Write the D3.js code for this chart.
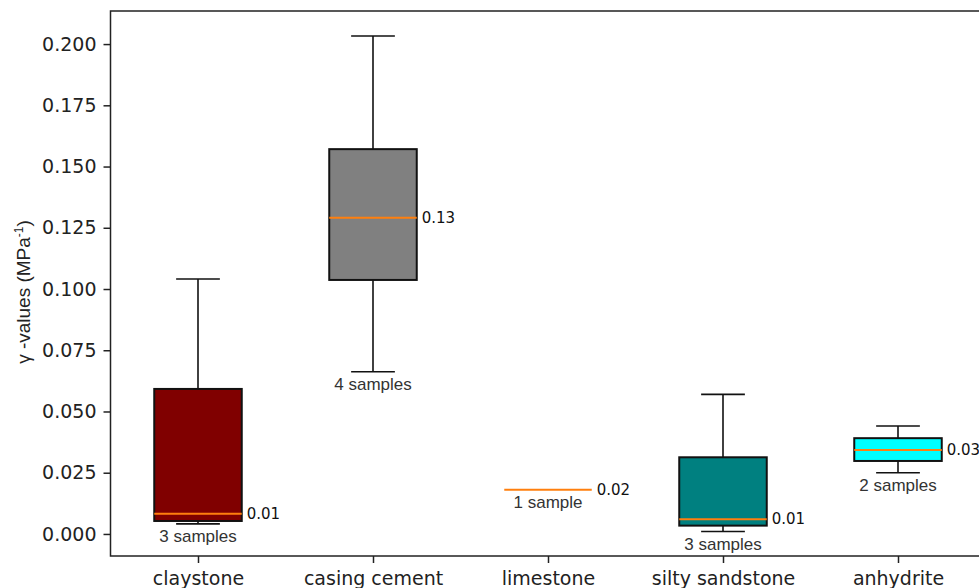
<!DOCTYPE html>
<html>
<head>
<meta charset="utf-8">
<script src="https://cdn.jsdelivr.net/npm/d3@7"></script>
<style>
  body { margin: 0; background: #fff; }
  text { font-family: "DejaVu Sans", sans-serif; }
</style>
</head>
<body>
<div id="chart"></div>
<script>
// box statistics
const rocks = ["claystone", "casing cement", "limestone", "silty sandstone", "anhydrite"];
const whiskerLow = [0.0041, 0.0662, 0.0180, 0.0010, 0.0250];
const q1 = [0.0053, 0.1037, 0.0180, 0.0034, 0.0298];
const medians = [0.0082, 0.1291, 0.0180, 0.0060, 0.0343];
const q3 = [0.0592, 0.1571, 0.0180, 0.0313, 0.0391];
const whiskerHigh = [0.1041, 0.2033, 0.0180, 0.0570, 0.0441];
const sampleCounts = [3, 4, 1, 3, 2];
const medianLabels = ["0.01", "0.13", "0.02", "0.01", "0.03"];
const boxColors = ["#800000", "#808080", "none", "#008080", "#00ffff"];
const yTicks = [0, 0.025, 0.05, 0.075, 0.1, 0.125, 0.15, 0.175, 0.2];

const width = 979, height = 588;
const mLeft = 110.5, mRight = 985.5, mTop = 11, mBottom = 556;

const svg = d3.select("#chart").append("svg")
    .attr("width", width)
    .attr("height", height);

const x = d3.scaleLinear().domain([0.5, 5.5]).range([mLeft, mRight]);
const y = d3.scaleLinear().domain([-0.009, 0.2135]).range([mBottom, mTop]);

const data = rocks.map((r, i) => ({
    rock: r, pos: i + 1, lo: whiskerLow[i], q1: q1[i], med: medians[i],
    q3: q3[i], hi: whiskerHigh[i], n: sampleCounts[i], label: medianLabels[i], color: boxColors[i]
}));

const boxW = x(1.25) - x(1);   // half box width
const capW = x(1.125) - x(1);  // half cap width

const g = svg.append("g");

data.forEach(d => {
    const cx = x(d.pos);
    const grp = g.append("g");
    if (d.n > 1) {
        // whiskers
        grp.append("line").attr("x1", cx).attr("x2", cx).attr("y1", y(d.q3)).attr("y2", y(d.hi))
            .attr("stroke", "#111").attr("stroke-width", 1.6);
        grp.append("line").attr("x1", cx).attr("x2", cx).attr("y1", y(d.q1)).attr("y2", y(d.lo))
            .attr("stroke", "#111").attr("stroke-width", 1.6);
        grp.append("line").attr("x1", cx - capW).attr("x2", cx + capW).attr("y1", y(d.hi)).attr("y2", y(d.hi))
            .attr("stroke", "#111").attr("stroke-width", 1.6);
        grp.append("line").attr("x1", cx - capW).attr("x2", cx + capW).attr("y1", y(d.lo)).attr("y2", y(d.lo))
            .attr("stroke", "#111").attr("stroke-width", 1.6);
        grp.append("rect")
            .attr("x", cx - boxW).attr("width", boxW * 2)
            .attr("y", y(d.q3)).attr("height", y(d.q1) - y(d.q3))
            .attr("fill", d.color).attr("stroke", "#111").attr("stroke-width", 2);
    }
    grp.append("line").attr("x1", cx - boxW).attr("x2", cx + boxW).attr("y1", y(d.med)).attr("y2", y(d.med))
        .attr("stroke", "#ff7f0e").attr("stroke-width", 2);

    grp.append("text")
        .attr("x", cx + boxW + 5).attr("y", y(d.med))
        .attr("dominant-baseline", "central")
        .style("font-size", "15px").attr("fill", "#111")
        .text(d.label);

    grp.append("text")
        .attr("x", cx).attr("y", y(d.lo) + 13)
        .attr("text-anchor", "middle").attr("dominant-baseline", "central")
        .style("font-family", "'Liberation Sans', Arial, sans-serif")
        .style("font-size", "17px").attr("fill", "#333")
        .text(d.n + (d.n === 1 ? " sample" : " samples"));
});

// axes
const yAxis = svg.append("g")
    .attr("transform", `translate(${mLeft},0)`)
    .call(d3.axisLeft(y).tickValues(yTicks).tickFormat(d3.format(".3f")).tickSize(7).tickPadding(7));
yAxis.select(".domain").remove();
yAxis.selectAll("line").attr("stroke", "#222").attr("stroke-width", 1.5);
yAxis.selectAll("text").style("font-size", "19px").attr("fill", "#222");

const xAxis = svg.append("g")
    .attr("transform", `translate(0,${mBottom})`)
    .call(d3.axisBottom(x).tickValues(data.map(d => d.pos)).tickFormat((d, i) => rocks[i]).tickSize(7).tickPadding(9));
xAxis.select(".domain").remove();
xAxis.selectAll("line").attr("stroke", "#222").attr("stroke-width", 1.5);
xAxis.selectAll("text").style("font-size", "19px").attr("fill", "#222");

// frame
svg.append("rect")
    .attr("x", mLeft).attr("y", mTop)
    .attr("width", mRight - mLeft).attr("height", mBottom - mTop)
    .attr("fill", "none").attr("stroke", "#222").attr("stroke-width", 1.5);

// y label
const yl = svg.append("text")
    .attr("transform", "translate(30,292) rotate(-90)")
    .attr("text-anchor", "middle")
    .style("font-family", "'Liberation Sans', Arial, sans-serif")
    .style("font-size", "19px").attr("fill", "#222");
yl.append("tspan").text("γ -values (MPa");
yl.append("tspan").attr("dy", -7).style("font-size", "12px").text("-1");
yl.append("tspan").attr("dy", 7).text(")");
</script>
</body>
</html>
